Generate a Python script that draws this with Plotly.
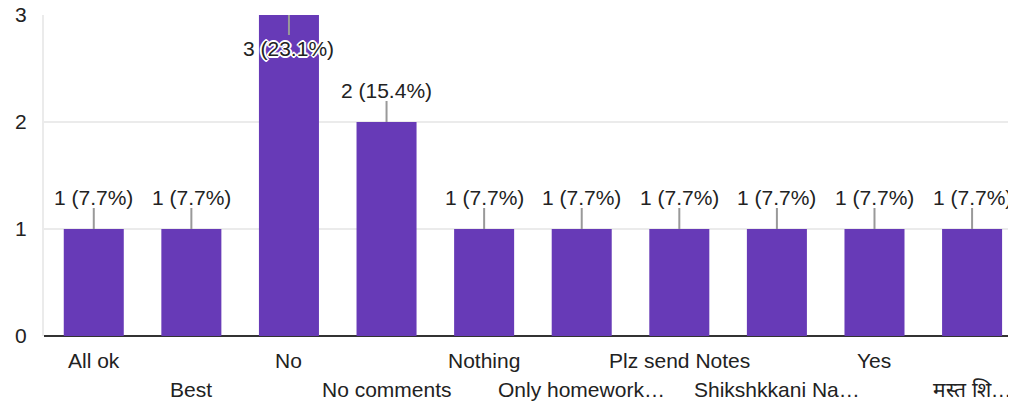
import plotly.graph_objects as go

categories = ["All ok", "Best", "No", "No comments", "Nothing", "Only homework…",
              "Plz send Notes", "Shikshkkani Na…", "Yes", "मस्त शि…"]
values = [1, 1, 3, 2, 1, 1, 1, 1, 1, 1]
y_ticks = [0, 1, 2, 3]
y_max = 3

total = sum(values)
labels = [f"{v} ({v / total * 100:.1f}%)" for v in values]

BAR = "#673ab7"
TXT = "#222222"
FONT = "Arial, Liberation Sans, sans-serif"
FS = 21

HALO = ("1px 1px 0 #fff, -1px -1px 0 #fff, 1px -1px 0 #fff, -1px 1px 0 #fff, "
        "2px 0 0 #fff, -2px 0 0 #fff, 0 2px 0 #fff, 0 -2px 0 #fff")

fig = go.Figure(go.Bar(x=categories, y=values, marker=dict(color=BAR, line=dict(width=0)),
                       width=0.615, hoverinfo="skip"))

shapes = []
annotations = []
for i, (c, v, t) in enumerate(zip(categories, values, labels)):
    inside = v >= y_max
    if inside:
        shapes.append(dict(type="line", xref="x", yref="y", x0=i, x1=i,
                           ysizemode="pixel", yanchor=v, y0=0, y1=-20,
                           line=dict(color="#999999", width=2), layer="above"))
        annotations.append(dict(x=c, y=v, xref="x", yref="y", text=t, showarrow=False,
                                yshift=-33, yanchor="middle",
                                font=dict(size=FS, color=TXT, family=FONT, shadow=HALO)))
    else:
        shapes.append(dict(type="line", xref="x", yref="y", x0=i, x1=i,
                           ysizemode="pixel", yanchor=v, y0=0, y1=21,
                           line=dict(color="#999999", width=2), layer="above"))
        annotations.append(dict(x=c, y=v, xref="x", yref="y", text=t, showarrow=False,
                                yshift=32, yanchor="middle",
                                font=dict(size=FS, color=TXT, family=FONT)))
    # category labels in two staggered rows
    annotations.append(dict(x=c, y=0, xref="x", yref="y", text=c, showarrow=False,
                            yshift=-24 if i % 2 == 0 else -53, yanchor="middle",
                            font=dict(size=FS, color=TXT, family=FONT)))

# page body adds an 8px offset, so the figure is sized to fill the rest of the window
fig.update_layout(
    width=1008, height=400,
    margin=dict(l=36, r=0, t=7, b=72),
    paper_bgcolor="white", plot_bgcolor="white",
    showlegend=False,
    shapes=shapes, annotations=annotations,
    xaxis=dict(type="category", range=[-0.51, 9.45], showticklabels=False,
               showgrid=False, zeroline=False, showline=False, ticks=""),
    yaxis=dict(range=[0, y_max], tickvals=y_ticks, showgrid=True, gridcolor="#ebebeb",
               gridwidth=2, zeroline=True, zerolinecolor="#333333", zerolinewidth=2,
               showline=True, linecolor="#ebebeb", linewidth=2, ticks="",
               ticklabelstandoff=11, ticklabeloverflow="allow",
               automargin=False,
               tickfont=dict(size=FS, color=TXT, family=FONT)),
)

fig.write_html("out.html")
